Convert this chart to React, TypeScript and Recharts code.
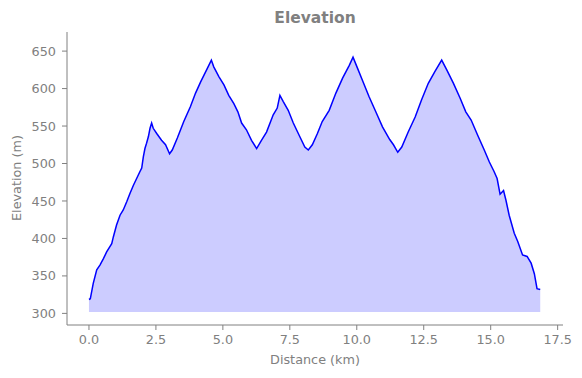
import React from "react";
import { AreaChart, Area, XAxis, YAxis } from "recharts";

// distance along the route (km) and elevation (m)
const distanceKm = [
  0.0, 0.05, 0.16, 0.29, 0.41, 0.54, 0.66, 0.85, 0.91, 1.03, 1.16, 1.28, 1.41,
  1.53, 1.66, 1.78, 1.9, 1.97, 2.03, 2.09, 2.15, 2.22, 2.28, 2.34, 2.4, 2.53,
  2.71, 2.86, 3.01, 3.11, 3.3, 3.54, 3.79, 3.98, 4.17, 4.42, 4.57, 4.66, 4.85,
  5.04, 5.22, 5.41, 5.56, 5.7, 5.88, 6.07, 6.26, 6.44, 6.63, 6.88, 7.03, 7.13,
  7.25, 7.44, 7.63, 7.87, 8.06, 8.19, 8.34, 8.53, 8.71, 8.97, 9.22, 9.47, 9.72,
  9.86, 10.03, 10.21, 10.46, 10.71, 10.96, 11.23, 11.37, 11.53, 11.68, 11.92,
  12.18, 12.42, 12.67, 12.92, 13.17, 13.36, 13.61, 13.86, 14.07, 14.27, 14.51,
  14.76, 14.95, 15.13, 15.24, 15.35, 15.48, 15.57, 15.69, 15.88, 16.01, 16.19,
  16.36, 16.51, 16.63, 16.73, 16.78, 16.85,
];

const elevationM = [
  318.5, 319.5, 340, 358, 364.5, 373, 382, 393, 402, 418, 431, 438, 449, 460,
  471, 480, 489, 494, 509, 520, 527, 536, 547, 554, 547, 540, 531, 525, 513,
  518, 534, 556, 576, 594, 609, 627, 638, 629, 616, 605, 591, 580, 569, 554,
  545, 531, 520, 531, 542, 565, 574, 591, 583, 571, 554, 536, 522, 518, 525,
  540, 556, 571, 594, 614, 631, 642, 627, 611, 589, 569, 549, 532, 525, 515,
  522, 542, 562, 585, 607, 623, 638, 625, 607, 587, 569, 558, 538, 518, 502,
  489, 480, 459, 464, 451, 431, 407, 396, 378, 376, 367, 353, 333, 332.5, 332,
];

const xTicks = [0, 2.5, 5, 7.5, 10, 12.5, 15, 17.5];
const yTicks = [300, 350, 400, 450, 500, 550, 600, 650];
const fillBase = 302;

const data = distanceKm.map((d, i) => ({ dist: d, elev: elevationM[i] }));

const GRAY = "#808080";
const FONT = "DejaVu Sans";

export default function App() {
  return (
    <div
      style={{
        position: "absolute",
        left: 0,
        top: 0,
        width: 582,
        height: 378,
        background: "#fff",
        fontFamily: FONT,
        color: GRAY,
      }}
    >
      <div
        style={{
          position: "absolute",
          left: 67,
          width: 496,
          top: 9,
          lineHeight: "18px",
          fontSize: 15.5,
          fontWeight: "bold",
          textAlign: "center",
        }}
      >
        Elevation
      </div>

      <AreaChart
        width={582}
        height={378}
        data={data}
        margin={{ top: 32, right: 19, bottom: 0, left: 0 }}
      >
        <XAxis
          dataKey="dist"
          type="number"
          domain={[-0.82, 17.7]}
          ticks={xTicks}
          interval={0}
          tickFormatter={(v: number) => v.toFixed(1)}
          height={53}
          stroke={GRAY}
          tickSize={5}
          tickMargin={5}
          tick={{ fill: GRAY, fontSize: 12.8, fontFamily: FONT }}
          allowDataOverflow
        />
        <YAxis
          type="number"
          domain={[284.5, 675.5]}
          ticks={yTicks}
          interval={0}
          width={67}
          stroke={GRAY}
          tickSize={5}
          tickMargin={6}
          tick={{ fill: GRAY, fontSize: 12.8, fontFamily: FONT }}
          allowDataOverflow
        />
        <Area
          type="linear"
          dataKey="elev"
          baseValue={fillBase}
          stroke="#0000ff"
          strokeWidth={1.5}
          fill="#0000ff"
          fillOpacity={0.2}
          dot={false}
          activeDot={false}
          isAnimationActive={false}
        />
      </AreaChart>

      <div
        style={{
          position: "absolute",
          left: 67,
          width: 496,
          top: 352,
          lineHeight: "16px",
          fontSize: 12.8,
          textAlign: "center",
        }}
      >
        Distance (km)
      </div>
      <div
        style={{
          position: "absolute",
          left: 17 - 100,
          top: 178 - 8,
          width: 200,
          lineHeight: "16px",
          fontSize: 12.8,
          textAlign: "center",
          transform: "rotate(-90deg)",
        }}
      >
        Elevation (m)
      </div>
    </div>
  );
}
